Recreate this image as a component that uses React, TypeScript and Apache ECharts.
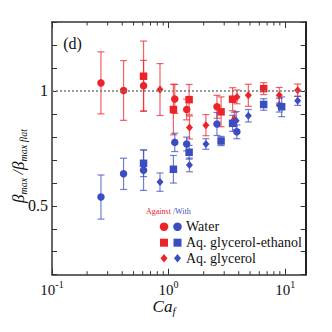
import React, { useEffect, useRef } from "react";
import * as echarts from "echarts";

const FONT = "'Liberation Serif', 'DejaVu Serif', serif";
const RED = "#ec2429";
const BLUE = "#3b4dc1";
const RED_ERR = "rgba(236,36,41,0.72)";
const BLUE_ERR = "rgba(59,77,193,0.72)";

// Water (circles)
const waterAgainstX = [0.263, 0.411, 0.61, 1.13, 1.43, 2.6];
const waterAgainstY = [1.035, 1.002, 1.023, 0.965, 0.919, 0.931];
const waterAgainstE = [0.135, 0.13, 0.11, 0.063, 0.045, 0.05];
const waterWithX = [0.263, 0.411, 0.61, 1.13, 1.43, 2.6, 3.85];
const waterWithY = [0.538, 0.639, 0.655, 0.776, 0.769, 0.856, 0.822];
const waterWithE = [0.096, 0.068, 0.088, 0.04, 0.03, 0.05, 0.03];

// Aq. glycerol-ethanol (squares)
const geAgainstX = [0.61, 1.1, 1.5, 2.82, 3.54, 6.54];
const geAgainstY = [1.064, 0.919, 0.962, 0.909, 0.964, 1.01];
const geAgainstE = [0.153, 0.11, 0.066, 0.065, 0.05, 0.026];
const geWithX = [0.61, 1.1, 1.5, 2.82, 3.54, 6.54, 9.33];
const geWithY = [0.685, 0.659, 0.733, 0.782, 0.859, 0.941, 0.931];
const geWithE = [0.058, 0.06, 0.03, 0.02, 0.035, 0.025, 0.043];

// Aq. glycerol (diamonds)
const gAgainstX = [0.844, 1.51, 2.09, 3.66, 3.86, 4.83, 8.9, 12.8];
const gAgainstY = [1.006, 0.841, 0.851, 0.877, 0.974, 0.981, 0.981, 1.003];
const gAgainstE = [0.113, 0.05, 0.046, 0.03, 0.03, 0.048, 0.034, 0.027];
const gWithX = [0.844, 1.51, 2.09, 3.8, 4.83, 8.9, 12.8];
const gWithY = [0.603, 0.678, 0.769, 0.87, 0.892, 0.938, 0.957];
const gWithE = [0.04, 0.03, 0.023, 0.04, 0.027, 0.03, 0.02];

const minorTickValues = [0.2, 0.3, 0.4, 0.5, 0.6, 0.7, 0.8, 0.9, 2, 3, 4, 5, 6, 7, 8, 9];

const X_MIN = 0.1;
const X_MAX = 15;
const Y_MIN = 0.2;
const Y_MAX = 1.3;

function pts(xs: number[], ys: number[]) {
  return xs.map((x, i) => [x, ys[i]]);
}
function errs(xs: number[], ys: number[], es: number[]) {
  return xs.map((x, i) => [x, ys[i] - es[i], ys[i] + es[i]]);
}

function errorSeries(data: number[][], color: string) {
  return {
    type: "custom",
    xAxisIndex: 0,
    yAxisIndex: 0,
    data,
    encode: { x: 0, y: [1, 2] },
    z: 2,
    silent: true,
    renderItem: (params: any, api: any) => {
      const x = api.value(0);
      const lo = api.coord([x, api.value(1)]);
      const hi = api.coord([x, api.value(2)]);
      const w = 3.5;
      const style = { stroke: color, lineWidth: 1.2, fill: "none" };
      return {
        type: "group",
        children: [
          { type: "line", shape: { x1: lo[0], y1: lo[1], x2: hi[0], y2: hi[1] }, style },
          { type: "line", shape: { x1: lo[0] - w, y1: lo[1], x2: lo[0] + w, y2: lo[1] }, style },
          { type: "line", shape: { x1: hi[0] - w, y1: hi[1], x2: hi[0] + w, y2: hi[1] }, style },
        ],
      };
    },
  };
}

function scatterSeries(name: string, data: number[][], color: string, symbol: string, size: any) {
  return {
    name,
    type: "scatter",
    xAxisIndex: 0,
    yAxisIndex: 0,
    data,
    symbol,
    symbolSize: size,
    itemStyle: { color, opacity: 1 },
    z: 3,
    silent: true,
  };
}

export default function App() {
  const ref = useRef<HTMLDivElement>(null);
  useEffect(() => {
    if (!ref.current) return;
    const chart = echarts.init(ref.current, undefined, { renderer: "svg" });
    const axisLineStyle = { color: "#333", width: 1.5 };
    const xFormatter = (v: number) => {
      const l = Math.log10(v);
      const e = Math.round(l);
      if (Math.abs(l - e) > 1e-6) return "";
      return `{b|10}{s|${e}}`;
    };
    const yFormatter = (v: number) => {
      if (Math.abs(v - 0.5) < 1e-6) return "0.5";
      if (Math.abs(v - 1) < 1e-6) return "1";
      return "";
    };
    const option: any = {
      animation: false,
      backgroundColor: "#fff",
      textStyle: { fontFamily: FONT },
      grid: { left: 52, top: 22, right: 26.3, bottom: 57.3, containLabel: false },
      xAxis: [
        {
          type: "log",
          logBase: 10,
          min: X_MIN,
          max: X_MAX,
          position: "bottom",
          axisLine: { show: true, lineStyle: axisLineStyle },
          axisTick: { show: true, inside: true, length: 6, lineStyle: { color: "#333", width: 1 } },
          axisLabel: {
            show: true,
            margin: 5,
            formatter: xFormatter,
            showMaxLabel: false,
            fontFamily: FONT,
            rich: {
              b: { fontFamily: FONT, fontSize: 15, color: "#111", lineHeight: 20, verticalAlign: "middle" },
              s: { fontFamily: FONT, fontSize: 10, color: "#111", lineHeight: 10, verticalAlign: "top" },
            },
          },
          splitLine: { show: false },
        },
        {
          type: "log",
          logBase: 10,
          min: X_MIN,
          max: X_MAX,
          position: "top",
          axisLine: { show: true, lineStyle: axisLineStyle },
          axisTick: { show: true, inside: true, length: 6, lineStyle: { color: "#333", width: 1 } },
          axisLabel: { show: false },
          splitLine: { show: false },
        },
      ],
      yAxis: [
        {
          type: "value",
          min: Y_MIN,
          max: Y_MAX,
          interval: 0.1,
          position: "left",
          axisLine: { show: true, lineStyle: axisLineStyle },
          axisTick: { show: true, inside: true, length: 5, lineStyle: { color: "#333", width: 1 } },
          axisLabel: {
            show: true,
            margin: 4,
            formatter: yFormatter,
            fontFamily: FONT,
            fontSize: 16,
            color: "#111",
          },
          splitLine: { show: false },
        },
        {
          type: "value",
          min: Y_MIN,
          max: Y_MAX,
          interval: 0.1,
          position: "right",
          axisLine: { show: true, lineStyle: { color: "#222", width: 2 } },
          axisTick: { show: true, inside: true, length: 5, lineStyle: { color: "#333", width: 1 } },
          axisLabel: { show: false },
          splitLine: { show: false },
        },
      ],
      series: [
        {
          type: "custom",
          xAxisIndex: 0,
          yAxisIndex: 0,
          data: minorTickValues.map((v) => [v, Y_MIN]),
          encode: { x: 0, y: 1 },
          silent: true,
          z: 1,
          renderItem: (params: any, api: any) => {
            const x = api.value(0);
            const b = api.coord([x, Y_MIN]);
            const t = api.coord([x, Y_MAX]);
            const style = { stroke: "#333", lineWidth: 1 };
            return {
              type: "group",
              children: [
                { type: "line", shape: { x1: b[0], y1: b[1], x2: b[0], y2: b[1] - 3.5 }, style },
                { type: "line", shape: { x1: t[0], y1: t[1], x2: t[0], y2: t[1] + 3.5 }, style },
              ],
            };
          },
          markLine: {
            silent: true,
            symbol: ["none", "none"],
            label: { show: false },
            lineStyle: { type: [2, 2], color: "#7a7a7a", width: 1.5 },
            data: [{ yAxis: 1 }],
          },
        },
        errorSeries(errs(waterAgainstX, waterAgainstY, waterAgainstE), RED_ERR),
        errorSeries(errs(geAgainstX, geAgainstY, geAgainstE), RED_ERR),
        errorSeries(errs(gAgainstX, gAgainstY, gAgainstE), RED_ERR),
        errorSeries(errs(waterWithX, waterWithY, waterWithE), BLUE_ERR),
        errorSeries(errs(geWithX, geWithY, geWithE), BLUE_ERR),
        errorSeries(errs(gWithX, gWithY, gWithE), BLUE_ERR),
        scatterSeries("Water against", pts(waterAgainstX, waterAgainstY), RED, "circle", 7.5),
        scatterSeries("Glycerol-ethanol against", pts(geAgainstX, geAgainstY), RED, "rect", 7.5),
        scatterSeries("Glycerol against", pts(gAgainstX, gAgainstY), RED, "diamond", [7, 8]),
        scatterSeries("Water with", pts(waterWithX, waterWithY), BLUE, "circle", 7.5),
        scatterSeries("Glycerol-ethanol with", pts(geWithX, geWithY), BLUE, "rect", 7.5),
        scatterSeries("Glycerol with", pts(gWithX, gWithY), BLUE, "diamond", [7, 8]),
      ],
      graphic: [
        {
          type: "text",
          x: 72.5,
          y: 43.5,
          style: { text: "(d)", font: `16px ${FONT}`, fill: "#111", align: "center", verticalAlign: "middle" },
        },
        {
          type: "text",
          x: 146,
          y: 211,
          style: {
            text: "{a|Against }{w|/With}",
            align: "left",
            verticalAlign: "middle",
            rich: {
              a: { fill: RED, fontFamily: FONT, fontSize: 8 },
              w: { fill: BLUE, fontFamily: FONT, fontSize: 8 },
            },
          },
        },
        { type: "circle", shape: { cx: 164, cy: 226.7, r: 4.3 }, style: { fill: RED } },
        { type: "circle", shape: { cx: 177.5, cy: 226.7, r: 4.3 }, style: { fill: BLUE } },
        { type: "rect", shape: { x: 160, y: 238.7, width: 8, height: 8 }, style: { fill: RED } },
        { type: "rect", shape: { x: 173.5, y: 238.7, width: 8, height: 8 }, style: { fill: BLUE } },
        {
          type: "polygon",
          shape: { points: [[164, 254], [167.5, 258.3], [164, 262.6], [160.5, 258.3]] },
          style: { fill: RED },
        },
        {
          type: "polygon",
          shape: { points: [[177.5, 254], [181, 258.3], [177.5, 262.6], [174, 258.3]] },
          style: { fill: BLUE },
        },
        {
          type: "text",
          x: 186,
          y: 226.7,
          style: { text: "Water", font: `14px ${FONT}`, fill: "#111", align: "left", verticalAlign: "middle" },
        },
        {
          type: "text",
          x: 186,
          y: 242.7,
          style: { text: "Aq. glycerol-ethanol", font: `14px ${FONT}`, fill: "#111", align: "left", verticalAlign: "middle" },
        },
        {
          type: "text",
          x: 186,
          y: 258.3,
          style: { text: "Aq. glycerol", font: `14px ${FONT}`, fill: "#111", align: "left", verticalAlign: "middle" },
        },
        {
          type: "text",
          x: 18,
          y: 166,
          rotation: Math.PI / 2,
          style: {
            text: "{b|β}{s|max}{n| /}{b|β}{s|max flat}",
            align: "center",
            verticalAlign: "middle",
            rich: {
              b: { fill: "#111", fontFamily: FONT, fontStyle: "italic", fontSize: 17, lineHeight: 20, verticalAlign: "middle" },
              s: { fill: "#111", fontFamily: FONT, fontStyle: "italic", fontSize: 10, lineHeight: 12, verticalAlign: "bottom" },
              n: { fill: "#111", fontFamily: FONT, fontStyle: "italic", fontSize: 15, lineHeight: 20, verticalAlign: "middle" },
            },
          },
        },
        {
          type: "text",
          x: 164,
          y: 306,
          style: {
            text: "{b|Ca}{s|f}",
            align: "center",
            verticalAlign: "middle",
            rich: {
              b: { fill: "#111", fontFamily: FONT, fontStyle: "italic", fontSize: 17, lineHeight: 20, verticalAlign: "middle" },
              s: { fill: "#111", fontFamily: FONT, fontStyle: "italic", fontSize: 11, lineHeight: 12, verticalAlign: "bottom" },
            },
          },
        },
      ],
    };
    chart.setOption(option);
    return () => chart.dispose();
  }, []);
  return (
    <div
      ref={ref}
      style={{ position: "fixed", left: 0, top: 0, width: 332, height: 332, background: "#fff" }}
    />
  );
}
